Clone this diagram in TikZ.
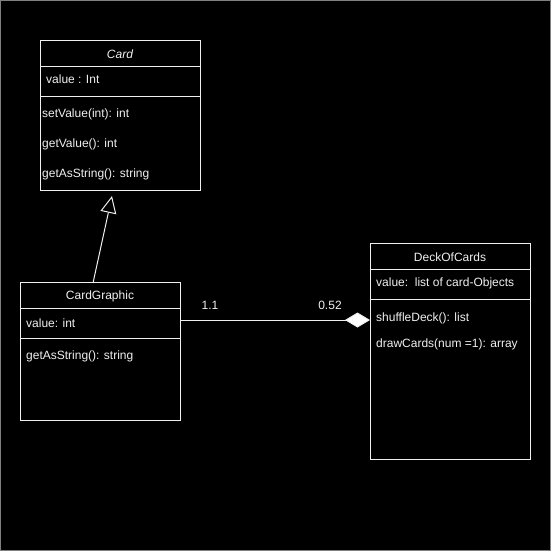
\documentclass[tikz,border=0pt]{standalone}
\usepackage{fontspec}
\setmainfont{Liberation Sans}
\usetikzlibrary{arrows.meta,calc}
\definecolor{fg}{HTML}{F0F0F0}
\begin{document}
\begin{tikzpicture}[x=1pt,y=-1pt,
  every node/.style={font=\fontsize{12}{14}\selectfont, text=fg, inner sep=0pt},
  classbox/.style={draw=fg, line width=1pt, fill=black, rectangle, anchor=north west},
  lbl/.style={anchor=west, yshift=-1pt},
  ttl/.style={anchor=center, yshift=-1pt},
  divider/.style={draw=fg, line width=1pt},
  inh/.style={draw=fg, line width=1pt, -{Triangle[open, length=17pt, width=16pt, fill=black]}},
  assoc/.style={draw=fg, line width=1pt, -{Diamond[fill=white, length=25pt, width=15pt]}}
]
\useasboundingbox (0,0) rectangle (551,551);
\fill[black] (0,0) rectangle (551,551);
\draw[gray, line width=1pt] (0.5,0.5) rectangle (550.5,550.5);

% Card
\node[classbox, minimum width=160pt, minimum height=150pt] (card) at (40,40) {};
\draw[divider] (40,66) -- (200,66);
\draw[divider] (40,96) -- (200,96);
\node[ttl] (cardT) at (120,53) {\itshape Card};
\node[lbl] (cardA) at (46,78) {value : Int};
\node[lbl] (cardM1) at (42,113) {setValue(int): int};
\node[lbl] (cardM2) at (42,143) {getValue(): int};
\node[lbl] (cardM3) at (42,173) {getAsString(): string};

% CardGraphic
\node[classbox, minimum width=160pt, minimum height=138pt] (cg) at (20,282) {};
\draw[divider] (20,308) -- (180,308);
\draw[divider] (20,338) -- (180,338);
\node[ttl] (cgT) at (100,295) {CardGraphic};
\node[lbl] (cgA) at (26,322) {value: int};
\node[lbl] (cgM1) at (26,355) {getAsString(): string};

% DeckOfCards
\node[classbox, minimum width=160pt, minimum height=216pt] (deck) at (370,243) {};
\draw[divider] (370,269) -- (530,269);
\draw[divider] (370,299) -- (530,299);
\node[ttl] (deckT) at (450,256) {DeckOfCards};
\node[lbl] (deckA) at (376,282) {value:\ \ list of card-Objects};
\node[lbl] (deckM1) at (376,317) {shuffleDeck(): list};
\node[lbl] (deckM2) at (376,343) {drawCards(num =1): array};

% connectors
\coordinate (inhS) at ($(cg.north west)+(73,1)$);
\coordinate (inhE) at ($(card.south west)+(72,5)$);
\draw[inh] (inhS) -- (inhE);

\coordinate (asS) at ($(cg.north east)+(0,38)$);
\coordinate (asE) at ($(deck.north west)+(0,77)$);
\draw[assoc] (asS) -- (asE);
\node[ttl] (m1) at (210,304) {1.1};
\node[ttl] (m2) at (330,304) {0.52};
\end{tikzpicture}
\end{document}
